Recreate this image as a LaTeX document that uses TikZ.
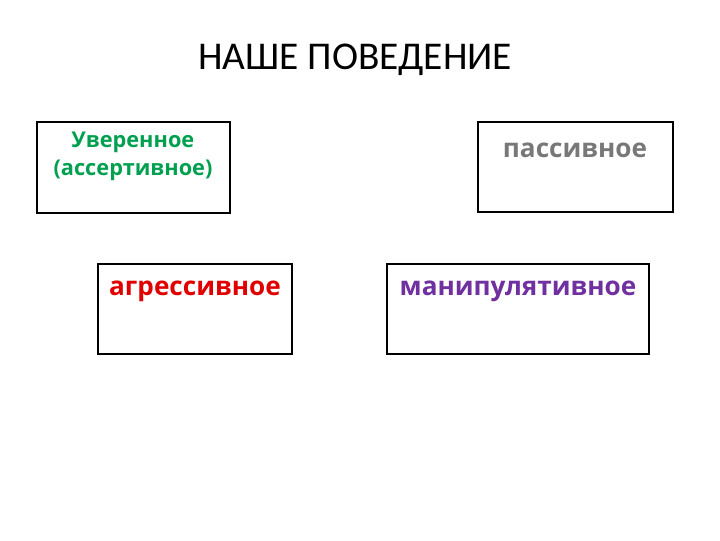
\documentclass[tikz,border=0pt]{standalone}
\usepackage{fontspec}
\setmainfont{Open Sans}
\newfontfamily\titlefont{Carlito}
\definecolor{cgreen}{RGB}{0,160,80}
\definecolor{cred}{RGB}{225,0,0}
\definecolor{cgray}{RGB}{120,120,120}
\definecolor{cpurple}{RGB}{112,48,160}
\begin{document}
\begin{tikzpicture}[x=0.75pt,y=-0.75pt,
  box/.style={draw=black,line width=1.6pt},
  lbl/.style={font=\bfseries\fontsize{19.6}{24}\selectfont,inner sep=0pt,anchor=center}]
\useasboundingbox (0,0) rectangle (720,540);
\node[font=\titlefont\fontsize{29.5}{34}\selectfont,inner sep=0pt] (title) at (355,60) {НАШЕ ПОВЕДЕНИЕ};
\draw[box] (37,122) rectangle (230,213);
\draw[box] (478,122) rectangle (673,212);
\draw[box] (98,264) rectangle (292,354);
\draw[box] (387,264) rectangle (649,354);
\node[lbl,text=cgreen,align=center,font=\bfseries\fontsize{16.3}{21}\selectfont] (t1) at (133,156) {Уверенное\\(ассертивное)};
\node[lbl,text=cgray] (t2) at (575,150) {пассивное};
\node[lbl,text=cred] (t3) at (195,291) {агрессивное};
\node[lbl,text=cpurple] (t4) at (518,291) {манипулятивное};
\end{tikzpicture}
\end{document}
